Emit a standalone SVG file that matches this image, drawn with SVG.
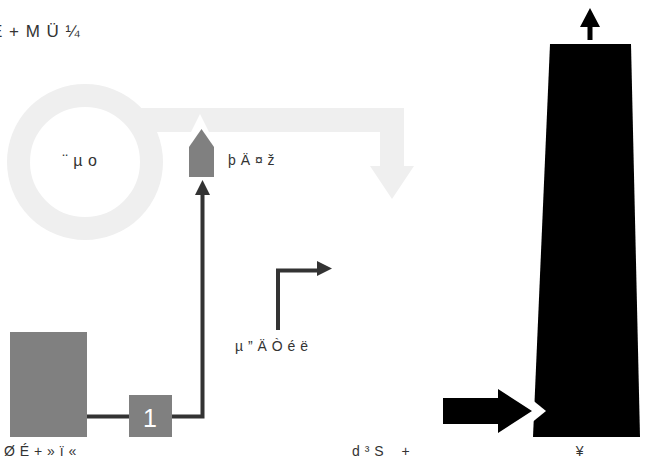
<svg xmlns="http://www.w3.org/2000/svg" width="647" height="463" viewBox="0 0 647 463">
<style>
.lbl{font-family:"Liberation Sans",Arial,sans-serif;font-size:14px;fill:#333;white-space:pre;letter-spacing:0.5px}
.big{font-size:17px;letter-spacing:1px}
.conn{fill:none;stroke:#333;stroke-width:4}
.head{fill:#333}
.gray{fill:#808080}
.light{fill:#efefef}
</style>
<rect width="647" height="463" fill="#fff"/>
<g id="title"><text class="lbl big" x="-9" y="37">É + M Ü ¼</text></g>
<g id="ring">
<circle cx="85" cy="162" r="66.5" fill="none" stroke="#efefef" stroke-width="23"/>
<path class="light" d="M140,108 H404 V166 H414 L392,199 L370,166 H380 V132 H140 Z"/>
<text class="lbl" x="80" y="166" text-anchor="middle" style="font-size:16px">¨ µ o</text>
</g>
<g id="notch"><polygon fill="#fff" points="191,132 200,114 209,132"/></g>
<g id="pentagon">
<polygon class="gray" points="189,147 201.5,129 214,147 214,177 189,177"/>
<text class="lbl" x="228" y="165">þ Ä ¤ ž</text>
</g>
<g id="source">
<rect class="gray" x="10" y="332" width="77" height="105"/>
<text class="lbl" x="4" y="456">Ø É + » ï «</text>
</g>
<g id="box1">
<rect class="gray" x="129" y="395" width="43" height="42"/>
<text x="150" y="427" text-anchor="middle" font-family="Liberation Sans,Arial,sans-serif" font-size="25" fill="#fff">1</text>
</g>
<g id="connectors">
<path class="conn" d="M87,416.5 H129"/>
<path class="conn" d="M172,416.5 H202.5 V194"/>
<polygon class="head" points="195,195 210,195 202.5,180"/>
<path class="conn" d="M278,330 V270.5 H318"/>
<polygon class="head" points="317,261 332,268.5 317,276"/>
</g>
<g id="bentlabel"><text class="lbl" x="235" y="351">µ ” Ä Ò é ë</text></g>
<g id="tower">
<polygon fill="#000" points="550,44 631,44 640,437 533,437"/>
<polygon fill="#fff" points="530,398 546,411 530,424"/>
<polygon fill="#000" points="443,398 498,398 498,389 532,411 498,433 498,424 443,424"/>
<polygon fill="#000" points="587.5,40 592.5,40 592.5,27 600,27 590,8 580,27 587.5,27"/>
<text class="lbl" x="580" y="456" text-anchor="middle">¥</text>
</g>
<g id="dlabel"><text class="lbl" x="352" y="456">d ³ S    +</text></g>
</svg>
